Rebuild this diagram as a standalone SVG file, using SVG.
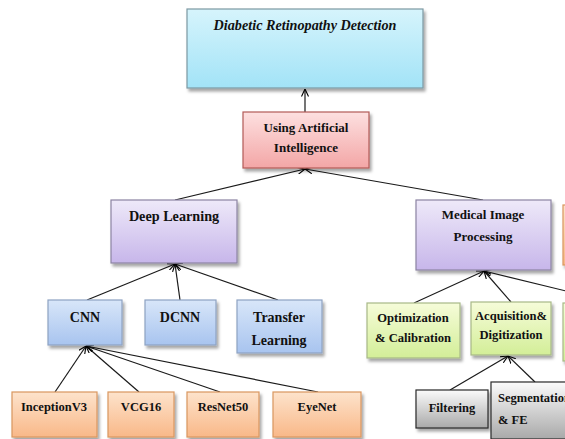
<svg xmlns="http://www.w3.org/2000/svg" width="565" height="439" viewBox="0 0 565 439" font-family="Liberation Serif, DejaVu Serif, serif">
  <defs>
    <linearGradient id="gCyan" x1="0" y1="0" x2="0" y2="1">
      <stop offset="0" stop-color="#d6f4fc"/><stop offset="1" stop-color="#a2e3f7"/>
    </linearGradient>
    <linearGradient id="gPink" x1="0" y1="0" x2="0" y2="1">
      <stop offset="0" stop-color="#fde0e0"/><stop offset="1" stop-color="#f3a6a6"/>
    </linearGradient>
    <linearGradient id="gLav" x1="0" y1="0" x2="0" y2="1">
      <stop offset="0" stop-color="#eee9f9"/><stop offset="1" stop-color="#c7b6ea"/>
    </linearGradient>
    <linearGradient id="gBlue" x1="0" y1="0" x2="0" y2="1">
      <stop offset="0" stop-color="#d8e6f9"/><stop offset="1" stop-color="#a8c4ef"/>
    </linearGradient>
    <linearGradient id="gGreen" x1="0" y1="0" x2="0" y2="1">
      <stop offset="0" stop-color="#f6fcd9"/><stop offset="1" stop-color="#d3ee98"/>
    </linearGradient>
    <linearGradient id="gOrange" x1="0" y1="0" x2="0" y2="1">
      <stop offset="0" stop-color="#fde3cc"/><stop offset="1" stop-color="#f9b888"/>
    </linearGradient>
    <linearGradient id="gGray" x1="0" y1="0" x2="0" y2="1">
      <stop offset="0" stop-color="#fbfbfb"/><stop offset="1" stop-color="#a9a9a9"/>
    </linearGradient>
    <filter id="shadow" x="-10%" y="-10%" width="125%" height="135%">
      <feDropShadow dx="2" dy="3" stdDeviation="1.8" flood-color="#000" flood-opacity="0.35"/>
    </filter>
    <marker id="arrow" viewBox="0 0 8 8" refX="7.5" refY="4" markerWidth="8" markerHeight="8" markerUnits="userSpaceOnUse" orient="auto">
      <path d="M0,0.5 L7.5,4 L0,7.5" fill="none" stroke="#000" stroke-width="1.1"/>
    </marker>
  </defs>
  <style>
    .box { filter: url(#shadow); stroke-width: 1.2; }
    .t { font-family: 'Liberation Serif', 'DejaVu Serif', serif; font-weight: bold; fill: #111; text-anchor: middle; }
    .ts { text-anchor: start; }
    .conn line { stroke: #1a1a1a; stroke-width: 1.2; marker-end: url(#arrow); }
  </style>

  <rect width="565" height="439" fill="#ffffff"/>

  <!-- connectors -->
  <g id="connectors" class="conn">
    <line x1="305" y1="112" x2="305" y2="89"/>
    <line x1="175" y1="200" x2="305" y2="169"/>
    <line x1="483" y1="200" x2="305" y2="169"/>
    <line x1="87" y1="300" x2="175" y2="264"/>
    <line x1="180" y1="300" x2="175" y2="264"/>
    <line x1="278" y1="300" x2="175" y2="264"/>
    <line x1="414" y1="303" x2="484" y2="271"/>
    <line x1="511" y1="302" x2="484" y2="271"/>
    <line x1="566" y1="291" x2="484" y2="271"/>
    <line x1="55" y1="392" x2="86" y2="346"/>
    <line x1="139" y1="392" x2="86" y2="346"/>
    <line x1="220" y1="392" x2="86" y2="346"/>
    <line x1="318" y1="392" x2="86" y2="346"/>
    <line x1="450" y1="390" x2="508" y2="356"/>
    <line x1="535" y1="382" x2="508" y2="356"/>
  </g>

  <!-- top goal -->
  <g id="node-drd">
    <rect class="box" x="187" y="9" width="236" height="79" fill="url(#gCyan)" stroke="#7c98a2"/>
    <text class="t" x="305" y="30" font-size="14.2" font-style="italic">Diabetic Retinopathy Detection</text>
  </g>

  <g id="node-ai">
    <rect class="box" x="243" y="112" width="126" height="56" fill="url(#gPink)" stroke="#b35a58"/>
    <text class="t" x="306" y="132" font-size="13">Using Artificial</text>
    <text class="t" x="306" y="152" font-size="13">Intelligence</text>
  </g>

  <g id="node-dl">
    <rect class="box" x="111" y="200" width="126" height="63" fill="url(#gLav)" stroke="#8c84a2"/>
    <text class="t" x="174" y="221" font-size="14.2">Deep Learning</text>
  </g>

  <g id="node-mip">
    <rect class="box" x="416" y="200" width="135" height="70" fill="url(#gLav)" stroke="#8c84a2"/>
    <text class="t" x="483" y="219" font-size="13">Medical Image</text>
    <text class="t" x="483" y="241" font-size="13">Processing</text>
  </g>

  <!-- partly visible neighbour boxes at the right edge -->
  <g id="node-edge-orange">
    <rect class="box" x="563" y="205" width="20" height="60" fill="url(#gOrange)" stroke="#d9975f"/>
  </g>
  <g id="node-edge-green">
    <rect class="box" x="563" y="303" width="20" height="58" fill="url(#gGreen)" stroke="#a7b887"/>
  </g>

  <g id="node-cnn">
    <rect class="box" x="48" y="300" width="74" height="45" fill="url(#gBlue)" stroke="#8ea2c2"/>
    <text class="t" x="85" y="322" font-size="14">CNN</text>
  </g>
  <g id="node-dcnn">
    <rect class="box" x="145" y="300" width="71" height="45" fill="url(#gBlue)" stroke="#8ea2c2"/>
    <text class="t" x="180" y="322" font-size="14">DCNN</text>
  </g>
  <g id="node-tl">
    <rect class="box" x="237" y="300" width="85" height="53" fill="url(#gBlue)" stroke="#8ea2c2"/>
    <text class="t" x="279" y="322" font-size="14">Transfer</text>
    <text class="t" x="279" y="345" font-size="14">Learning</text>
  </g>

  <g id="node-opt">
    <rect class="box" x="367" y="303" width="93" height="55" fill="url(#gGreen)" stroke="#a7b887"/>
    <text class="t" x="413" y="322" font-size="12.6">Optimization</text>
    <text class="t" x="413" y="342" font-size="12.6">&amp; Calibration</text>
  </g>
  <g id="node-acq">
    <rect class="box" x="471" y="302" width="80" height="53" fill="url(#gGreen)" stroke="#a7b887"/>
    <text class="t" x="511" y="320" font-size="12.6">Acquisition&amp;</text>
    <text class="t" x="511" y="339" font-size="12.6">Digitization</text>
  </g>

  <g id="node-inception">
    <rect class="box" x="12" y="392" width="85" height="45" fill="url(#gOrange)" stroke="#d9975f"/>
    <text class="t" x="54" y="411" font-size="12.5">InceptionV3</text>
  </g>
  <g id="node-vcg">
    <rect class="box" x="108" y="392" width="66" height="45" fill="url(#gOrange)" stroke="#d9975f"/>
    <text class="t" x="141" y="411" font-size="12.5">VCG16</text>
  </g>
  <g id="node-resnet">
    <rect class="box" x="187" y="392" width="72" height="45" fill="url(#gOrange)" stroke="#d9975f"/>
    <text class="t" x="223" y="411" font-size="12.5">ResNet50</text>
  </g>
  <g id="node-eyenet">
    <rect class="box" x="273" y="392" width="88" height="45" fill="url(#gOrange)" stroke="#d9975f"/>
    <text class="t" x="317" y="411" font-size="12.5">EyeNet</text>
  </g>

  <g id="node-filtering">
    <rect class="box" x="416" y="390" width="72" height="38" fill="url(#gGray)" stroke="#2a2a2a"/>
    <text class="t" x="452" y="412" font-size="12.5">Filtering</text>
  </g>
  <g id="node-seg">
    <rect class="box" x="491" y="382" width="90" height="57" fill="url(#gGray)" stroke="#2a2a2a"/>
    <text class="t ts" x="498" y="402" font-size="12.5">Segmentation</text>
    <text class="t ts" x="498" y="424" font-size="12.5">&amp; FE</text>
  </g>
</svg>
